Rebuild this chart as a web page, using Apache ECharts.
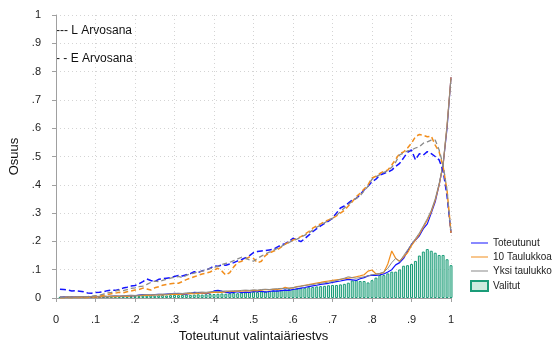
<!DOCTYPE html>
<html>
<head>
<meta charset="utf-8">
<script src="https://cdn.jsdelivr.net/npm/echarts@6/dist/echarts.min.js"></script>
<style>
  html, body { margin: 0; padding: 0; background: #fff; }
  #chart { width: 556px; height: 340px; }
</style>
</head>
<body>
<div id="chart"></div>
<script>
// bin positions 0.01 .. 1.00
const binCount = 100;
const xTicks = ['0', '.1', '.2', '.3', '.4', '.5', '.6', '.7', '.8', '.9', '1'];
const yTicks = ['0', '.1', '.2', '.3', '.4', '.5', '.6', '.7', '.8', '.9', '1'];

const valitut = [
  0.004,0.004,0.005,0.004,0.005,0.005,0.004,0.005,0.006,0.005,
  0.005,0.006,0.005,0.006,0.006,0.007,0.006,0.007,0.007,0.008,
  0.007,0.008,0.008,0.009,0.008,0.009,0.010,0.009,0.010,0.011,
  0.010,0.011,0.012,0.011,0.012,0.013,0.012,0.013,0.014,0.014,
  0.015,0.016,0.015,0.017,0.018,0.017,0.019,0.020,0.021,0.022,
  0.021,0.023,0.024,0.025,0.026,0.027,0.028,0.030,0.031,0.033,
  0.034,0.035,0.036,0.038,0.039,0.041,0.042,0.043,0.045,0.046,
  0.046,0.048,0.050,0.054,0.062,0.063,0.060,0.060,0.055,0.063,
  0.072,0.081,0.081,0.087,0.093,0.093,0.101,0.114,0.116,0.120,
  0.131,0.150,0.164,0.173,0.167,0.160,0.152,0.152,0.137,0.116
];

// solid lines
const toteutunutL = [
  0.003,0.004,0.003,0.004,0.003,0.004,0.005,0.004,0.005,0.004,
  0.005,0.006,0.005,0.006,0.007,0.006,0.007,0.008,0.007,0.008,
  0.010,0.012,0.011,0.010,0.012,0.013,0.012,0.014,0.015,0.016,
  0.015,0.013,0.014,0.016,0.020,0.019,0.017,0.015,0.018,0.025,
  0.027,0.024,0.020,0.018,0.020,0.022,0.019,0.021,0.020,0.023,
  0.022,0.024,0.021,0.023,0.025,0.024,0.026,0.028,0.027,0.030,
  0.032,0.035,0.037,0.040,0.043,0.045,0.048,0.050,0.052,0.055,
  0.058,0.060,0.063,0.066,0.064,0.062,0.068,0.072,0.078,0.081,
  0.080,0.082,0.085,0.092,0.100,0.117,0.125,0.140,0.165,0.190,
  0.205,0.220,0.245,0.262,0.300,0.340,0.400,0.470,0.600,0.780
];
const taulukkoaL = [
  0.002,0.002,0.003,0.003,0.002,0.003,0.004,0.003,0.004,0.004,
  0.004,0.005,0.005,0.006,0.005,0.006,0.007,0.006,0.007,0.008,
  0.008,0.009,0.010,0.009,0.011,0.012,0.011,0.012,0.013,0.014,
  0.013,0.014,0.015,0.016,0.015,0.016,0.018,0.017,0.019,0.020,
  0.021,0.020,0.022,0.024,0.023,0.025,0.024,0.026,0.025,0.027,
  0.026,0.028,0.030,0.029,0.031,0.030,0.032,0.038,0.034,0.036,
  0.040,0.042,0.045,0.047,0.050,0.053,0.055,0.058,0.060,0.062,
  0.064,0.066,0.068,0.070,0.072,0.075,0.078,0.082,0.095,0.099,
  0.085,0.086,0.090,0.120,0.166,0.140,0.130,0.145,0.160,0.185,
  0.205,0.225,0.250,0.275,0.305,0.345,0.400,0.470,0.610,0.780
];
const yksiL = [
  0.003,0.003,0.004,0.003,0.004,0.004,0.005,0.004,0.005,0.006,
  0.006,0.007,0.006,0.007,0.008,0.007,0.008,0.009,0.010,0.009,
  0.010,0.011,0.012,0.011,0.012,0.013,0.014,0.013,0.015,0.016,
  0.017,0.016,0.018,0.019,0.018,0.020,0.021,0.020,0.022,0.023,
  0.022,0.024,0.025,0.024,0.026,0.025,0.027,0.028,0.027,0.029,
  0.028,0.030,0.031,0.030,0.032,0.033,0.034,0.033,0.035,0.037,
  0.039,0.042,0.044,0.046,0.048,0.050,0.052,0.054,0.056,0.058,
  0.062,0.066,0.070,0.075,0.072,0.070,0.072,0.075,0.078,0.082,
  0.084,0.087,0.092,0.105,0.125,0.140,0.128,0.150,0.170,0.190,
  0.210,0.230,0.255,0.280,0.310,0.350,0.405,0.475,0.610,0.775
];

// dashed lines
const toteutunutE = [
  0.031,0.030,0.028,0.025,0.026,0.024,0.022,0.018,0.017,0.019,
  0.020,0.022,0.026,0.028,0.027,0.030,0.035,0.038,0.042,0.044,
  0.050,0.058,0.067,0.062,0.058,0.066,0.068,0.070,0.072,0.076,
  0.080,0.078,0.082,0.086,0.093,0.090,0.096,0.099,0.105,0.113,
  0.112,0.117,0.116,0.120,0.125,0.131,0.136,0.142,0.150,0.160,
  0.164,0.166,0.168,0.170,0.172,0.180,0.187,0.192,0.200,0.211,
  0.205,0.199,0.210,0.222,0.234,0.245,0.255,0.264,0.272,0.282,
  0.300,0.318,0.325,0.335,0.346,0.352,0.365,0.382,0.395,0.411,
  0.420,0.435,0.440,0.445,0.452,0.465,0.476,0.495,0.515,0.523,
  0.488,0.510,0.505,0.517,0.510,0.500,0.488,0.450,0.360,0.230
];
const taulukkoaE = [
  0.001,0.001,0.002,0.001,0.002,0.002,0.001,0.002,0.003,0.004,
  0.006,0.010,0.012,0.015,0.017,0.020,0.018,0.022,0.025,0.028,
  0.030,0.035,0.032,0.028,0.036,0.040,0.045,0.048,0.050,0.052,
  0.052,0.058,0.065,0.070,0.075,0.080,0.085,0.088,0.092,0.099,
  0.105,0.095,0.081,0.090,0.110,0.125,0.130,0.138,0.145,0.140,
  0.124,0.130,0.150,0.159,0.165,0.170,0.180,0.190,0.198,0.205,
  0.210,0.217,0.225,0.235,0.247,0.255,0.262,0.270,0.276,0.282,
  0.290,0.300,0.310,0.325,0.340,0.358,0.370,0.385,0.400,0.424,
  0.430,0.440,0.448,0.452,0.470,0.490,0.511,0.516,0.530,0.547,
  0.570,0.578,0.575,0.570,0.572,0.540,0.517,0.464,0.380,0.230
];
const yksiE = [
  0.002,0.002,0.003,0.002,0.003,0.004,0.003,0.005,0.006,0.008,
  0.010,0.014,0.018,0.020,0.024,0.028,0.026,0.030,0.034,0.036,
  0.040,0.042,0.048,0.055,0.060,0.058,0.062,0.066,0.070,0.074,
  0.076,0.072,0.080,0.085,0.088,0.092,0.095,0.100,0.104,0.108,
  0.112,0.118,0.122,0.126,0.132,0.138,0.144,0.140,0.135,0.130,
  0.140,0.148,0.156,0.162,0.168,0.175,0.182,0.190,0.196,0.203,
  0.208,0.215,0.222,0.230,0.240,0.250,0.258,0.266,0.274,0.282,
  0.292,0.305,0.318,0.330,0.342,0.352,0.362,0.378,0.395,0.420,
  0.428,0.436,0.444,0.450,0.462,0.480,0.506,0.512,0.520,0.523,
  0.530,0.535,0.547,0.552,0.558,0.558,0.523,0.470,0.380,0.230
];

const BLUE = '#1414ff';
const ORANGE = '#f28e1c';
const GRAY = '#8a8a8a';
const font = 'Liberation Sans, Arial, sans-serif';
// thin horizontal bar inside a 17x10 box (tiny corner specks keep the box size)
const lineIcon = 'path://M0,0L0.01,0L0,0.01Z M0,4.4L17,4.4L17,5.6L0,5.6Z M17,10L16.99,10L17,9.99Z';

function pairs(arr) {
  return arr.map((v, i) => [(i + 1) / binCount, v]);
}

function tickLabel(list) {
  return v => list[Math.round(v * 10)];
}

function lineSeries(name, data, color, width, dash) {
  return {
    name: name,
    type: 'line',
    data: pairs(data),
    symbol: 'none',
    z: 3,
    lineStyle: { color: color, width: width, type: dash || 'solid' },
    itemStyle: { color: color },
    emphasis: { disabled: true }
  };
}

const chart = echarts.init(document.getElementById('chart'));

const option = {
  animation: false,
  textStyle: { fontFamily: font },
  grid: { left: 56, right: 105, top: 15, bottom: 42, containLabel: false, outerBoundsMode: 'none' },
  xAxis: {
    type: 'value',
    min: 0, max: 1, interval: 0.1,
    offset: 10,
    name: 'Toteutunut valintajärjestys',
    nameLocation: 'middle',
    nameGap: 22,
    nameTextStyle: { fontSize: 13, color: '#111', fontFamily: font },
    axisLine: { show: true, lineStyle: { color: '#a0a0a0', width: 1 } },
    axisTick: { show: true, length: 4, lineStyle: { color: '#a0a0a0' } },
    axisLabel: { formatter: tickLabel(xTicks), fontSize: 11, color: '#222', margin: 6 },
    splitLine: { show: true, lineStyle: { color: '#d4d4d4', type: [1, 3], width: 1 } }
  },
  yAxis: {
    type: 'value',
    min: 0, max: 1, interval: 0.1,
    offset: 8,
    name: 'Osuus',
    nameLocation: 'middle',
    nameGap: 26,
    nameTextStyle: { fontSize: 13, color: '#111', fontFamily: font },
    axisLine: { show: true, lineStyle: { color: '#a0a0a0', width: 1 } },
    axisTick: { show: true, length: 4, lineStyle: { color: '#a0a0a0' } },
    axisLabel: { formatter: tickLabel(yTicks), fontSize: 11, color: '#222', margin: 7 },
    splitLine: { show: true, lineStyle: { color: '#d4d4d4', type: [1, 3], width: 1 } }
  },
  legend: {
    orient: 'vertical',
    left: 470,
    top: 238,
    padding: 0,
    itemWidth: 17,
    itemHeight: 10,
    itemGap: 4,
    textStyle: { fontSize: 10, color: '#222', fontFamily: font },
    data: [
      { name: 'Toteutunut', icon: lineIcon },
      { name: '10 Taulukkoa', icon: lineIcon },
      { name: 'Yksi taulukko', icon: lineIcon },
      { name: 'Valitut', icon: 'rect' }
    ]
  },
  graphic: [
    { type: 'text', left: 56, top: 25, style: { text: '--- L Arvosana', font: '12px ' + font, fill: '#111' } },
    { type: 'text', left: 56, top: 53, style: { text: '- - E Arvosana', font: '12px ' + font, fill: '#111' } }
  ],
  series: [
    {
      name: 'Valitut',
      type: 'bar',
      data: pairs(valitut),
      barWidth: 3,
      z: 1,
      itemStyle: { color: '#cdebdf', borderColor: '#1a9c78', borderWidth: 1 },
      emphasis: { disabled: true }
    },
    lineSeries('Toteutunut', toteutunutL, BLUE, 1.2),
    lineSeries('10 Taulukkoa', taulukkoaL, ORANGE, 1.2),
    lineSeries('Yksi taulukko', yksiL, GRAY, 1),
    lineSeries('Toteutunut E', toteutunutE, BLUE, 1.5, [6, 3]),
    lineSeries('10 Taulukkoa E', taulukkoaE, ORANGE, 1.5, [5, 3]),
    lineSeries('Yksi taulukko E', yksiE, GRAY, 1.3, [5, 3])
  ]
};

chart.setOption(option);
</script>
</body>
</html>
